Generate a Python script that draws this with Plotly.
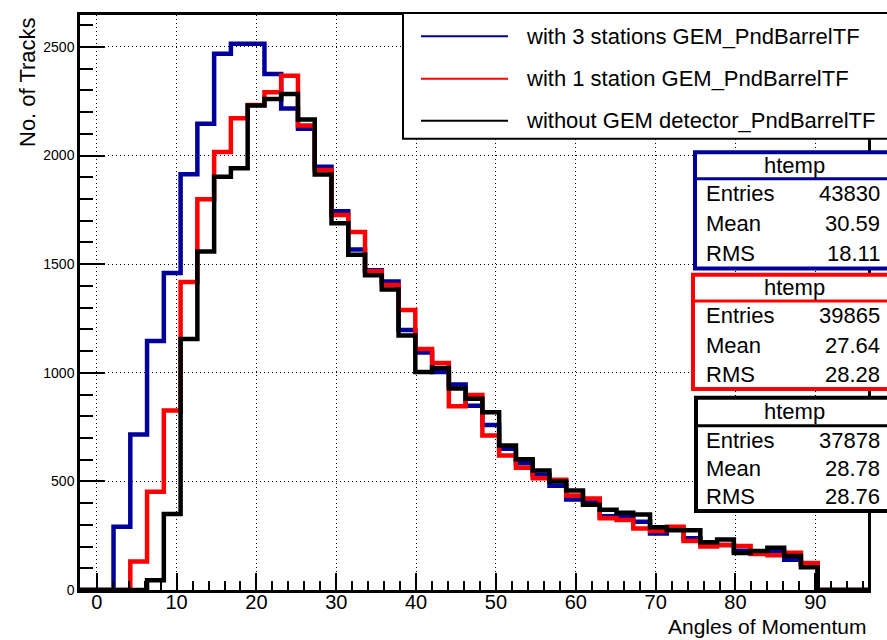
import plotly.graph_objects as go

# Histogram binning: 47 equal bins of width 2.1 starting at -2.1
BIN_LO = -2.1
BIN_W = 2.1
N_BINS = 47

# Track counts per bin
with_3_stations = [0, 0, 291, 716, 1146, 1459, 1914, 2146, 2469, 2515, 2515, 2375,
                   2217, 2123, 1948, 1743, 1568, 1472, 1420, 1197, 1093, 1003, 946,
                   848, 759, 650, 583, 530, 480, 417, 408, 339, 338, 314, 260, 279,
                   238, 207, 207, 181, 168, 177, 139, 117, 0, 0, 0]
with_1_station = [0, 0, 0, 131, 452, 826, 1418, 1799, 2016, 2172, 2233, 2291,
                  2367, 2138, 1934, 1726, 1648, 1467, 1404, 1289, 1110, 1045, 846,
                  898, 711, 619, 563, 515, 507, 435, 421, 330, 322, 283, 272, 291,
                  225, 200, 207, 202, 166, 160, 172, 124, 0, 0, 0]
without_gem = [0, 0, 0, 0, 45, 350, 1156, 1558, 1902, 1941, 2230, 2260,
               2283, 2166, 1913, 1688, 1543, 1449, 1383, 1172, 1003, 1022, 928,
               880, 818, 665, 602, 550, 500, 458, 393, 370, 356, 347, 289, 275,
               275, 220, 232, 170, 179, 195, 157, 105, 0, 0, 0]

series_names = ["with 3 stations GEM_PndBarrelTF",
                "with 1 station GEM_PndBarrelTF",
                "without GEM detector_PndBarrelTF"]
series_colors = ["#00009a", "#ff0000", "#000000"]
series_values = [with_3_stations, with_1_station, without_gem]

# Statistics boxes
stat_entries = ["43830", "39865", "37878"]
stat_means = ["30.59", "27.64", "28.78"]
stat_rms = ["18.11", "28.28", "28.76"]

edges = [round(BIN_LO + BIN_W * k, 4) for k in range(N_BINS + 1)]

W, H = 887, 640
ML, MR, MT, MB = 80, 19, 12, 50
PW, PH = W - ML - MR, H - MT - MB
FONT = "Liberation Sans"


def px(x):
    return (x - ML) / PW


def py(y):
    return (H - MB - y) / PH


fig = go.Figure()
for name, color, vals in zip(series_names, series_colors, series_values):
    fig.add_trace(go.Scatter(
        x=edges, y=vals + [vals[-1]], mode="lines", name=name,
        line=dict(color=color, width=4.5, shape="hv"),
        showlegend=False, hoverinfo="skip"))

shapes = []
annotations = []

# Legend box
shapes.append(dict(type="rect", xref="paper", yref="paper",
                   x0=px(403), x1=px(905), y0=py(136.5), y1=py(10),
                   line=dict(color="black", width=2), fillcolor="white"))
for i, (name, color) in enumerate(zip(series_names, series_colors)):
    yy = [33.3, 76, 118.3][i]
    shapes.append(dict(type="line", xref="paper", yref="paper",
                       x0=px(421), x1=px(508), y0=py(yy), y1=py(yy),
                       line=dict(color=color, width=2)))
    annotations.append(dict(text=name, xref="paper", yref="paper",
                            x=px(524), y=py(yy), xanchor="left", yanchor="middle",
                            showarrow=False, font=dict(family=FONT, size=22, color="black")))

# Statistics boxes
boxes = [(695, 150, 176.7, 266.7), (693, 273, 299.5, 388), (696, 396.7, 425, 510.7)]
for (x0, top, div, bot), color, ent, mean, rms in zip(
        boxes, series_colors, stat_entries, stat_means, stat_rms):
    shapes.append(dict(type="rect", xref="paper", yref="paper",
                       x0=px(x0), x1=px(905), y0=py(bot), y1=py(top),
                       line=dict(color=color, width=4), fillcolor="white"))
    shapes.append(dict(type="line", xref="paper", yref="paper",
                       x0=px(x0), x1=px(905), y0=py(div), y1=py(div),
                       line=dict(color=color, width=3)))
    annotations.append(dict(text="htemp", xref="paper", yref="paper",
                            x=px(794), y=py((top + div) / 2), xanchor="center",
                            yanchor="middle", showarrow=False,
                            font=dict(family=FONT, size=22, color="black")))
    row_h = (bot - div) / 3
    for j, (lab, val) in enumerate([("Entries", ent), ("Mean", mean), ("RMS", rms)]):
        yc = div + row_h * (j + 0.5)
        annotations.append(dict(text=lab, xref="paper", yref="paper",
                                x=px(704), y=py(yc), xanchor="left", yanchor="middle",
                                showarrow=False, font=dict(family=FONT, size=22, color="black")))
        annotations.append(dict(text=val, xref="paper", yref="paper",
                                x=px(882), y=py(yc), xanchor="right", yanchor="middle",
                                showarrow=False, font=dict(family=FONT, size=22, color="black")))

# Axis titles
annotations.append(dict(text="Angles of Momentum", xref="paper", yref="paper",
                        x=1.0, y=py(627), xanchor="right", yanchor="middle",
                        showarrow=False, font=dict(family=FONT, size=21, color="black")))
annotations.append(dict(text="No. of Tracks", xref="paper", yref="paper",
                        x=px(27), y=1.0, xanchor="center", yanchor="top",
                        textangle=-90, showarrow=False,
                        font=dict(family=FONT, size=22, color="black")))

axis_common = dict(showline=True, mirror=True, linecolor="black",
                   ticks="inside", tickcolor="black", zeroline=False,
                   showgrid=True, gridcolor="black", gridwidth=1, griddash="1px,3px")

fig.update_layout(
    width=W, height=H,
    margin=dict(l=ML, r=MR, t=MT, b=MB),
    paper_bgcolor="white", plot_bgcolor="white",
    showlegend=False,
    shapes=shapes, annotations=annotations,
    xaxis=dict(range=[edges[0], edges[-1]], tick0=0, dtick=10, ticklen=17, tickwidth=2,
               linewidth=3, ticklabelstandoff=-8,
               tickfont=dict(family=FONT, size=20, color="black"),
               minor=dict(ticks="inside", dtick=2, tick0=0, ticklen=9, tickwidth=1.5,
                          tickcolor="black", showgrid=False),
               **axis_common),
    yaxis=dict(range=[0, 2647], tick0=0, dtick=500, ticklen=25, tickwidth=2,
               linewidth=2.5,
               tickfont=dict(family=FONT, size=14, color="black"),
               minor=dict(ticks="inside", dtick=100, tick0=0, ticklen=13, tickwidth=1.5,
                          tickcolor="black", showgrid=False),
               **axis_common),
)

fig.write_html("out.html")
